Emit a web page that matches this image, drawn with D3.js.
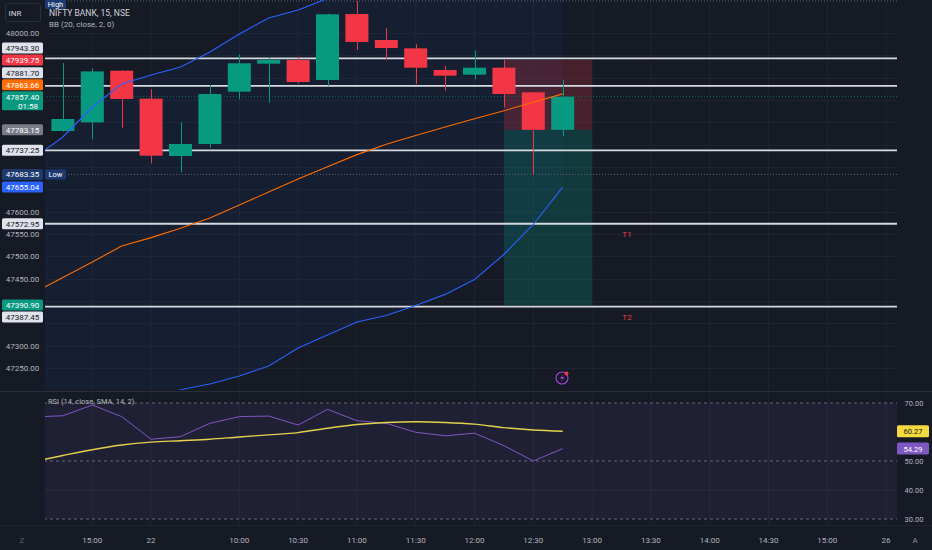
<!DOCTYPE html>
<html>
<head>
<meta charset="utf-8">
<script src="https://cdn.jsdelivr.net/npm/d3@7"></script>
<style>
html, body { margin:0; padding:0; background:#161a25; overflow:hidden; }
svg text { font-family: Roboto, "Noto Sans", sans-serif; }
</style>
</head>
<body>
<div id="chart"></div>
<script>
///// NIFTY BANK 15m with BB + RSI, TradingView-like dark layout /////

var times = ["14:30","14:45","15:00","15:15","09:15","09:30","09:45","10:00","10:15","10:30",
	"10:45","11:00","11:15","11:30","11:45","12:00","12:15","12:30","12:45"];
var open  = [47762, 47780.6, 47800, 47915.6, 47853, 47724.6, 47751.5, 47868.6, 47931.3, 47939.6,
	47894.8, 48042.5, 47984.3, 47965.7, 47917.2, 47906.6, 47922.3, 47867.2, 47783.15];
var high  = [47795, 47932.8, 47921, 47916.5, 47874, 47800, 47883.6, 47952.3, 47946, 47947,
	48043, 48071.65, 48010.5, 47974.7, 47926.8, 47960.4, 47939.6, 47868, 47894.8];
var low   = [47745, 47779, 47762, 47788, 47708, 47688, 47743, 47851.6, 47844, 47887,
	47881.4, 47962, 47941, 47885.2, 47870.8, 47896.3, 47833.7, 47683.35, 47769.4];
var close = [47780.6, 47807.5, 47914, 47852.3, 47725.3, 47751.5, 47863.4, 47932.2, 47939.6, 47890.3,
	48041.9, 47979.9, 47966.4, 47922.3, 47904.4, 47922.3, 47863.4, 47783.15, 47857.4];

var bbUpper = [47720, 47767.2, 47834.3, 47885.8, 47906, 47924, 47957.5, 47997.8, 48033.6, 48051.5,
	48077.3, 48102.4, 48134.2, 48151, 48164.6, 48168.3, 48147.9, 48118.5, 48073.8];
var bbBasis = [47418.4, 47452.7, 47487.4, 47523.2, 47541.9, 47562.7, 47585.8, 47614.9, 47644.0, 47673.1,
	47700.6, 47727.7, 47750.8, 47770.5, 47789.7, 47808.1, 47826.0, 47844.9, 47863.66];
var bbLower = [47116.8, 47138.2, 47140.5, 47160.6, 47177.8, 47201.4, 47214.1, 47232.0, 47254.4, 47294.7,
	47323.9, 47353.0, 47367.4, 47390.0, 47414.8, 47447.9, 47504.1, 47571.3, 47655.04];

var rsi   = [65.2, 65.6, 69.3, 65.3, 57.5, 58.4, 63.0, 65.3, 65.5, 62.4,
	67.8, 63.9, 63.0, 59.9, 58.7, 59.6, 55.3, 50.0, 54.29];
var rsiMa = [49.8, 51.9, 53.9, 55.5, 56.5, 57.0, 57.5, 58.3, 59.0, 59.8,
	61.3, 62.6, 63.3, 63.55, 63.3, 62.7, 61.5, 60.7, 60.27];

var tickIndex  = [2, 4, 7, 9, 11, 13, 15, 17, 19, 21, 23, 25, 27, 29];
var tickLabels = ["15:00","22","10:00","10:30","11:00","11:30","12:00","12:30","13:00","13:30","14:00","14:30","15:00","26"];
var priceTicks = [48000, 47950, 47900, 47850, 47800, 47750, 47700, 47650, 47600, 47550, 47500, 47450, 47400, 47350, 47300, 47250];
var rsiTicks   = [70, 50, 40, 30];
var rsiBands   = [70, 50, 30];

var hLines     = [47943.30, 47881.70, 47737.25, 47572.95, 47387.45];
var hLineNames = ["", "", "", "T1", "T2"];
var posLevels  = [47939.75, 47783.15, 47390.90];   // stop, entry, target
var posRange   = [16, 19];
var lastPrice  = 47857.40, countdown = "01:58";
var dayHigh    = 48071.65, dayLow = 47683.35;

var labelPrices = [47943.30, 47939.75, 47881.70, 47863.66, 47857.40, 47783.15, 47737.25, 47683.35, 47655.04, 47572.95, 47390.90, 47387.45];
var labelBg     = ["#e0e3eb","#f23645","#e0e3eb","#ff6d00","#089981","#787b86","#e0e3eb","#1c3a70","#2962ff","#e0e3eb","#089981","#e0e3eb"];
var labelFg     = ["#131722","#ffffff","#131722","#ffffff","#ffffff","#ffffff","#131722","#ffffff","#ffffff","#131722","#ffffff","#131722"];

////////////////////////////////////////////////////////////
/////////////////// Layout and scales //////////////////////
////////////////////////////////////////////////////////////

var W = 932, H = 550,
	paneL = 44, paneR = 897,
	mainBot = 390, rsiTop = 393, rsiBot = 525;

var x = d3.scaleLinear().domain([0, 29]).range([33.5, 886.1]);
var y = d3.scaleLinear().domain([47250, 48000]).range([368, 33]);
var yr = d3.scaleLinear().domain([30, 70]).range([519, 403]);
var idx = d3.range(times.length);

var svg = d3.select("#chart").append("svg")
	.attr("width", W).attr("height", H);

svg.append("rect").attr("width", W).attr("height", H).attr("fill", "#161a25");

var defs = svg.append("defs");
defs.append("clipPath").attr("id", "clipMain").append("rect")
	.attr("x", paneL + 1).attr("y", 0).attr("width", paneR - paneL - 1).attr("height", mainBot);
defs.append("clipPath").attr("id", "clipRsi").append("rect")
	.attr("x", paneL + 1).attr("y", rsiTop).attr("width", paneR - paneL - 1).attr("height", rsiBot - rsiTop);

// price labels, stacked away from the last price label
var labs = labelPrices.map(function(p, i){
	return { p: p, bg: labelBg[i], fg: labelFg[i], h: p === lastPrice ? 20 : 12 };
}).sort(function(a, b){ return b.p - a.p; });
var ai = labs.findIndex(function(d){ return d.p === lastPrice; });
labs[ai].top = y(lastPrice) - 6; labs[ai].bot = labs[ai].top + labs[ai].h;
for (var i = ai - 1; i >= 0; i--) {
	var c = Math.min(y(labs[i].p), labs[i + 1].top - labs[i].h / 2);
	labs[i].top = c - labs[i].h / 2; labs[i].bot = c + labs[i].h / 2;
}
for (i = ai + 1; i < labs.length; i++) {
	var c2 = Math.max(y(labs[i].p), labs[i - 1].bot + labs[i].h / 2);
	labs[i].top = c2 - labs[i].h / 2; labs[i].bot = c2 + labs[i].h / 2;
}
// tick texts hidden behind a label
function covered(t) {
	var ty = y(t);
	return labs.some(function(d){ return ty > d.top - 4 && ty < d.bot + 4; });
}

////////////////////////////////////////////////////////////
////////////////////// Main pane ///////////////////////////
////////////////////////////////////////////////////////////

var main = svg.append("g").attr("clip-path", "url(#clipMain)");

// grid
main.selectAll("line.vgrid").data(tickIndex).enter().append("line")
	.attr("x1", function(d){ return x(d); }).attr("x2", function(d){ return x(d); })
	.attr("y1", 0).attr("y2", mainBot)
	.attr("stroke", "#1f2330").attr("stroke-width", 1);
main.selectAll("line.hgrid").data(priceTicks).enter().append("line")
	.attr("x1", paneL).attr("x2", paneR)
	.attr("y1", function(d){ return Math.round(y(d)) + 0.5; }).attr("y2", function(d){ return Math.round(y(d)) + 0.5; })
	.attr("stroke", "#1f2330").attr("stroke-width", 1);

// BB background
main.append("path").datum(idx)
	.attr("fill", "rgba(41,98,255,0.06)")
	.attr("d", d3.area().x(function(i){ return x(i); })
		.y0(function(i){ return y(bbLower[i]); })
		.y1(function(i){ return y(bbUpper[i]); }));

// position tool
main.append("rect")
	.attr("x", x(posRange[0])).attr("width", x(posRange[1]) - x(posRange[0]))
	.attr("y", y(posLevels[0])).attr("height", y(posLevels[1]) - y(posLevels[0]))
	.attr("fill", "rgba(242,54,69,0.22)");
main.append("rect")
	.attr("x", x(posRange[0])).attr("width", x(posRange[1]) - x(posRange[0]))
	.attr("y", y(posLevels[1])).attr("height", y(posLevels[2]) - y(posLevels[1]))
	.attr("fill", "rgba(8,153,129,0.25)");

// dotted price lines
function dotted(p, col) {
	main.append("line")
		.attr("x1", paneL).attr("x2", paneR)
		.attr("y1", y(p)).attr("y2", y(p))
		.attr("stroke", col).attr("stroke-width", 1).attr("stroke-dasharray", "1,2");
}
dotted(dayHigh, "#5d6170");
dotted(dayLow, "#5d6170");
dotted(lastPrice, "#0b6e5f");

// horizontal drawn lines
main.selectAll("line.hl").data(hLines).enter().append("line")
	.attr("x1", paneL).attr("x2", paneR)
	.attr("y1", function(d){ return y(d); }).attr("y2", function(d){ return y(d); })
	.attr("stroke", "#d6d9e0").attr("stroke-width", 1.8);
main.selectAll("text.hl").data(hLines).enter().append("text")
	.attr("x", 627).attr("y", function(d){ return y(d) + 13; })
	.attr("text-anchor", "middle")
	.attr("font-size", 8).attr("fill", "#f23645")
	.text(function(d, i){ return hLineNames[i]; });

// candles
var bw = 23;
var candles = main.selectAll("g.candle").data(idx).enter().append("g");
candles.append("line")
	.attr("x1", function(i){ return Math.round(x(i)) + 0.5; }).attr("x2", function(i){ return Math.round(x(i)) + 0.5; })
	.attr("y1", function(i){ return y(high[i]); }).attr("y2", function(i){ return y(low[i]); })
	.attr("stroke", function(i){ return close[i] >= open[i] ? "#089981" : "#f23645"; });
candles.append("rect")
	.attr("x", function(i){ return x(i) - bw / 2; }).attr("width", bw)
	.attr("y", function(i){ return y(Math.max(open[i], close[i])); })
	.attr("height", function(i){ return Math.max(1, Math.abs(y(open[i]) - y(close[i]))); })
	.attr("fill", function(i){ return close[i] >= open[i] ? "#089981" : "#f23645"; });

// BB lines
function bbLine(arr, col) {
	main.append("path").datum(idx)
		.attr("fill", "none").attr("stroke", col).attr("stroke-width", 1.1)
		.attr("d", d3.line().x(function(i){ return x(i); }).y(function(i){ return y(arr[i]); }));
}
bbLine(bbUpper, "#2962ff");
bbLine(bbLower, "#2962ff");
bbLine(bbBasis, "#ff6d00");

// alert icon
var ic = svg.append("g").attr("transform", "translate(562,378)");
ic.append("circle").attr("r", 6).attr("fill", "none").attr("stroke", "#a63fd0").attr("stroke-width", 1.2);
ic.append("path").attr("d", "M1,-4 L-2,0.5 L0.5,0.5 L-1,4 L2.5,-1 L0,-1 Z").attr("fill", "#a63fd0");
ic.append("circle").attr("cx", 4.5).attr("cy", -4.5).attr("r", 2).attr("fill", "#f23645");

// pane separators
svg.append("line").attr("x1", 0).attr("x2", W).attr("y1", 391.5).attr("y2", 391.5)
	.attr("stroke", "#2a2e39").attr("stroke-width", 1);
svg.append("line").attr("x1", 0).attr("x2", W).attr("y1", rsiBot + 0.5).attr("y2", rsiBot + 0.5)
	.attr("stroke", "#1f2330").attr("stroke-width", 1);

////////////////////////////////////////////////////////////
/////////////////////// RSI pane ///////////////////////////
////////////////////////////////////////////////////////////

var rp = svg.append("g").attr("clip-path", "url(#clipRsi)");

rp.selectAll("line.vgrid").data(tickIndex).enter().append("line")
	.attr("x1", function(d){ return x(d); }).attr("x2", function(d){ return x(d); })
	.attr("y1", rsiTop).attr("y2", rsiBot)
	.attr("stroke", "#1f2330");

rp.append("rect")
	.attr("x", paneL).attr("width", paneR - paneL)
	.attr("y", yr(70)).attr("height", yr(30) - yr(70))
	.attr("fill", "rgba(126,87,194,0.1)");

rp.append("line").attr("x1", paneL).attr("x2", paneR)
	.attr("y1", yr(40)).attr("y2", yr(40)).attr("stroke", "#2a2d3d");

rp.selectAll("line.band").data(rsiBands).enter().append("line")
	.attr("x1", paneL).attr("x2", paneR)
	.attr("y1", function(d){ return yr(d); }).attr("y2", function(d){ return yr(d); })
	.attr("stroke", "#787b86").attr("stroke-opacity", 0.8).attr("stroke-dasharray", "3,3");

rp.append("path").datum(idx)
	.attr("fill", "none").attr("stroke", "#7e57c2").attr("stroke-width", 1)
	.attr("d", d3.line().x(function(i){ return x(i); }).y(function(i){ return yr(rsi[i]); }));
rp.append("path").datum(idx)
	.attr("fill", "none").attr("stroke", "#e3d14c").attr("stroke-width", 1.4)
	.attr("d", d3.line().curve(d3.curveMonotoneX).x(function(i){ return x(i); }).y(function(i){ return yr(rsiMa[i]); }));

svg.append("text").attr("x", 48).attr("y", 403.5)
	.attr("font-size", 7.5).attr("fill", "#b2b5be")
	.text("RSI (14, close, SMA, 14, 2)");

svg.selectAll("text.rsitick").data(rsiTicks).enter().append("text")
	.attr("x", 914).attr("y", function(d){ return yr(d) + 3; })
	.attr("text-anchor", "middle").attr("font-size", 7.5).attr("fill", "#b2b5be")
	.text(function(d){ return d.toFixed(2); });

[[rsiMa[rsiMa.length - 1], "#f5d93e", "#131722"], [rsi[rsi.length - 1], "#7e57c2", "#ffffff"]].forEach(function(v){
	svg.append("rect").attr("x", 897).attr("width", 32).attr("y", yr(v[0]) - 6).attr("height", 12)
		.attr("rx", 1.5).attr("fill", v[1]);
	svg.append("text").attr("x", 913).attr("y", yr(v[0]) + 3)
		.attr("text-anchor", "middle").attr("font-size", 7.5).attr("fill", v[2])
		.text(v[0].toFixed(2));
});

////////////////////////////////////////////////////////////
//////////////////////// Axes //////////////////////////////
////////////////////////////////////////////////////////////

svg.selectAll("text.tt").data(tickIndex).enter().append("text")
	.attr("x", function(d){ return x(d); }).attr("y", 543)
	.attr("text-anchor", "middle").attr("font-size", 8).attr("fill", "#b2b5be")
	.text(function(d, i){ return tickLabels[i]; });
svg.append("text").attr("x", 22).attr("y", 543).attr("text-anchor", "middle")
	.attr("font-size", 8).attr("fill", "#5d606b").text("Z");
svg.append("text").attr("x", 915).attr("y", 543).attr("text-anchor", "middle")
	.attr("font-size", 8).attr("fill", "#8a8d97").text("A");

svg.selectAll("text.pt").data(priceTicks.filter(function(t){ return !covered(t); })).enter().append("text")
	.attr("x", 22.5).attr("y", function(d){ return y(d) + 3; })
	.attr("text-anchor", "middle").attr("font-size", 8).attr("fill", "#b2b5be")
	.text(function(d){ return d.toFixed(2); });

var lg = svg.selectAll("g.plab").data(labs).enter().append("g");
lg.append("rect")
	.attr("x", 2).attr("width", 41)
	.attr("y", function(d){ return d.top + 0.5; }).attr("height", function(d){ return d.h - 1; })
	.attr("rx", 1.5).attr("fill", function(d){ return d.bg; });
lg.append("text")
	.attr("x", 22.5).attr("y", function(d){ return d.top + 9; })
	.attr("text-anchor", "middle").attr("font-size", 8).attr("fill", function(d){ return d.fg; })
	.text(function(d){ return d.p.toFixed(2); });
lg.filter(function(d){ return d.p === lastPrice; }).append("text")
	.attr("x", 38).attr("y", function(d){ return d.top + 18; })
	.attr("text-anchor", "end").attr("font-size", 8).attr("fill", "#ffffff")
	.text(countdown);

// High / Low tags
function tag(txt, yc) {
	svg.append("rect").attr("x", 45).attr("y", yc - 5).attr("width", 21).attr("height", 10)
		.attr("rx", 1.5).attr("fill", "#1c3a70");
	svg.append("text").attr("x", 55.5).attr("y", yc + 2.5).attr("text-anchor", "middle")
		.attr("font-size", 7.5).attr("fill", "#ffffff").text(txt);
}

////////////////////////////////////////////////////////////
/////////////////////// Legend /////////////////////////////
////////////////////////////////////////////////////////////

svg.append("text").attr("x", 49).attr("y", 16)
	.attr("font-size", 8.5).attr("fill", "#d1d4dc").text("NIFTY BANK, 15, NSE");
svg.append("text").attr("x", 49).attr("y", 27)
	.attr("font-size", 8).attr("fill", "#b2b5be").text("BB (20, close, 2, 0)");
tag("High", y(dayHigh) + 3);
tag("Low", y(dayLow));

svg.append("rect").attr("x", 5.5).attr("y", 3.5).attr("width", 35).attr("height", 18)
	.attr("rx", 2).attr("fill", "#161a25").attr("stroke", "#2a2e39");
svg.append("text").attr("x", 15).attr("y", 15.5).attr("text-anchor", "middle")
	.attr("font-size", 8).attr("fill", "#d1d4dc").text("INR");
</script>
</body>
</html>
